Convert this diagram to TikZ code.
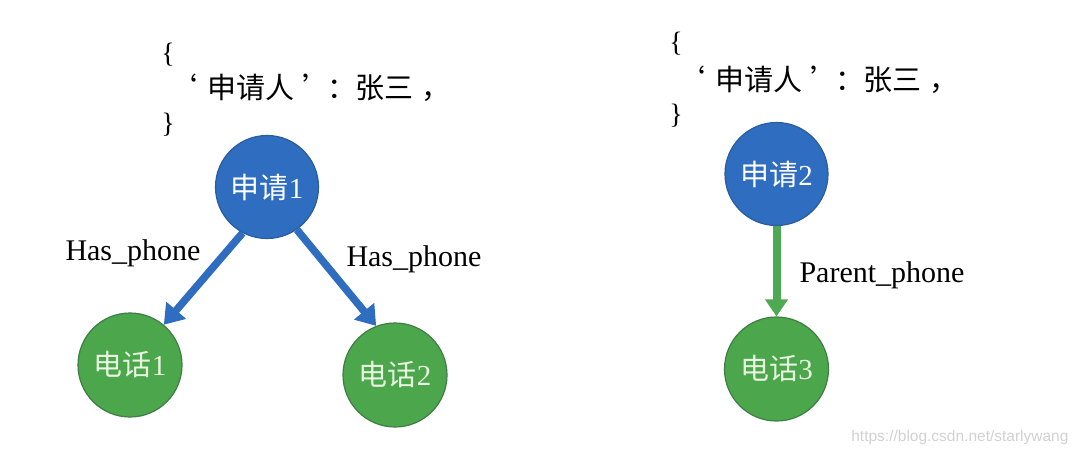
\documentclass[tikz,border=0pt]{standalone}
\usepackage{fontspec}
\setmainfont{Liberation Serif}
\newfontfamily\cjk{Noto Sans CJK SC}
\newfontfamily\cjkfw[CharacterWidth=Full]{Noto Sans CJK SC}
\newfontfamily\wmfont{Liberation Sans}
\usetikzlibrary{arrows.meta}
\definecolor{nblue}{HTML}{2E6DBF}
\definecolor{nblueb}{HTML}{2B5C9C}
\definecolor{ngreen}{HTML}{4CA64B}
\definecolor{ngreenb}{HTML}{3E7E44}
\definecolor{agreen}{HTML}{4DAA52}
\definecolor{gtext}{HTML}{E8F5E0}
\newcommand{\kvline}{\llap{‘\hspace{10pt}}申请人\hspace{8pt}’\hspace{-4pt}：\hspace{-1pt}张三\hspace{8pt}，}
\tikzset{
  bnode/.style={circle, fill=nblue, draw=nblueb, line width=1.2pt, minimum size=103pt, inner sep=0pt, text=white, font=\fontsize{29}{32}\selectfont},
  gnode/.style={circle, fill=ngreen, draw=ngreenb, line width=1.2pt, minimum size=104pt, inner sep=0pt, text=gtext, font=\fontsize{29}{32}\selectfont},
  barrow/.style={draw=nblue, line width=7.5pt, -{Triangle[width=25pt,length=19pt]}},
  garrow/.style={draw=agreen, line width=8pt, -{Triangle[width=22pt,length=17pt]}},
  brace/.style={font=\fontsize{28}{32}\selectfont, inner sep=0pt},
  kv/.style={font=\cjkfw\fontsize{29}{32}\selectfont, inner sep=0pt, anchor=west},
  elabel/.style={font=\fontsize{30}{34}\selectfont, inner sep=0pt}
}
\begin{document}
\begin{tikzpicture}[x=1pt,y=-1pt]
\fill[white] (0,0) rectangle (1080,459);
\useasboundingbox (0,0) rectangle (1080,459);
% left group
\node[brace] (ob1) at (168,55) {\{};
\node[kv] (kv1) at (207,88) {\kvline};
\node[brace] (cb1) at (168,125) {\}};
\node[bnode] (s1) at (267,187) {{\cjk 申请}1};
\node[gnode] (p1) at (130,365) {{\cjk 电话}1};
\node[gnode] (p2) at (395,375) {{\cjk 电话}2};
\draw[barrow] (s1.242) -- (p1.50);
\draw[barrow] (s1.-55) -- (p2.111);
\node[elabel] (l1) at (133,253) {Has\_phone};
\node[elabel] (l2) at (414,259) {Has\_phone};
% right group
\node[brace] (ob2) at (676,44) {\{};
\node[kv] (kv2) at (715,80) {\kvline};
\node[brace] (cb2) at (676,116) {\}};
\node[bnode] (s2) at (776.5,174) {{\cjk 申请}2};
\node[gnode] (p3) at (776.5,369) {{\cjk 电话}3};
\draw[garrow] (s2.south) -- (p3.north);
\node[elabel] (l3) at (882,275) {Parent\_phone};
\node[anchor=east, text=gray!35, font=\wmfont\fontsize{15.5}{18}\selectfont] (wm) at (1072,437) {https://blog.csdn.net/starlywang};
\end{tikzpicture}
\end{document}
